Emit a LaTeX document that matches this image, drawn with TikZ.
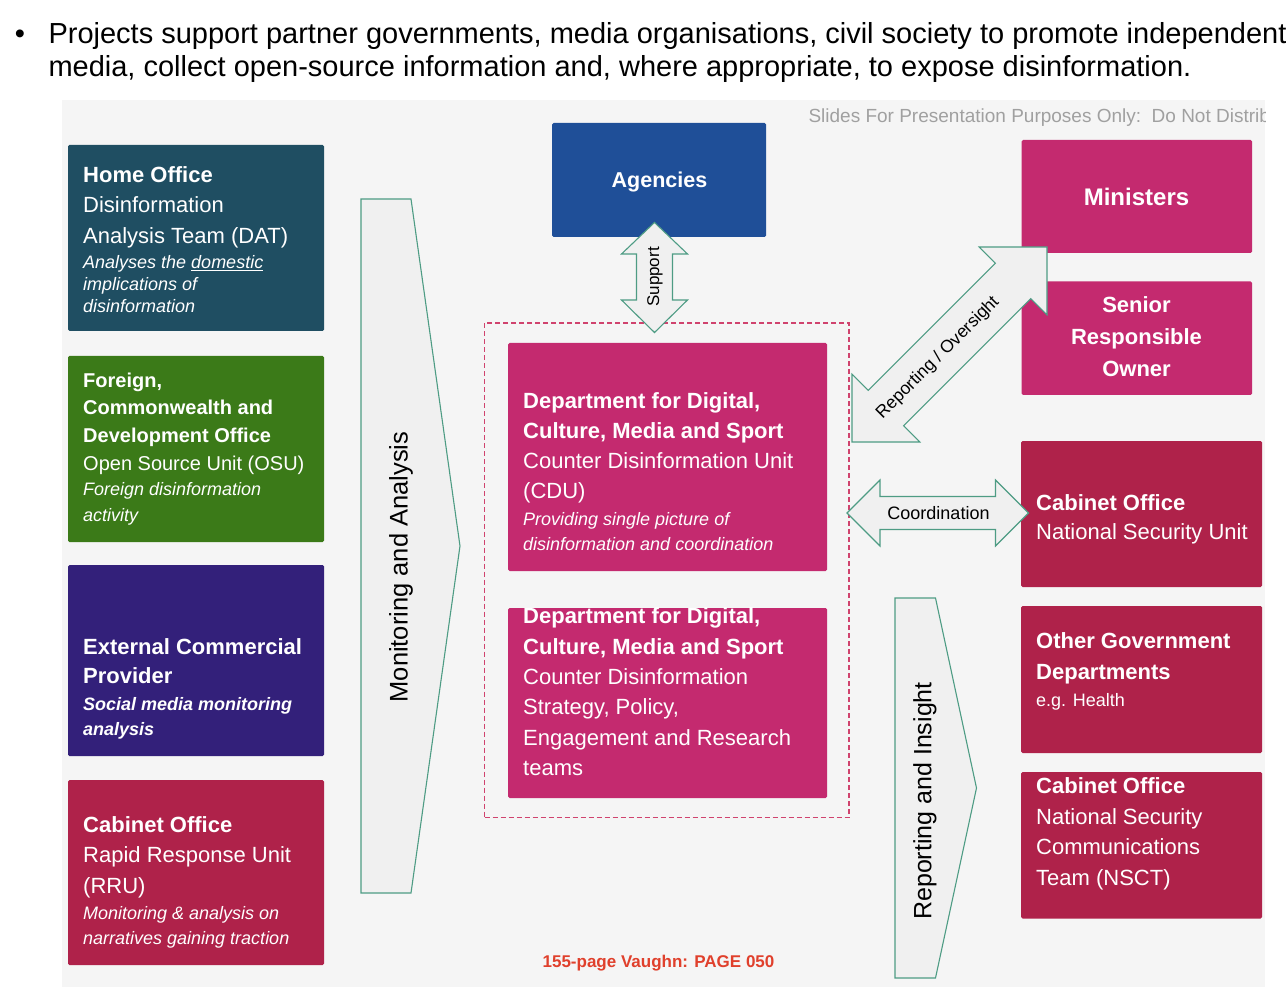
\documentclass[tikz,border=0pt]{standalone}
\usepackage{fontspec}
\setmainfont{Liberation Sans}
\definecolor{panelbg}{HTML}{F5F5F5}
\definecolor{homeblue}{HTML}{1F4E62}
\definecolor{fcdogreen}{HTML}{3B7A18}
\definecolor{ecppurple}{HTML}{33207A}
\definecolor{rrured}{HTML}{AF224A}
\definecolor{agencyblue}{HTML}{1F4F98}
\definecolor{dcmsmag}{HTML}{C42A6F}
\definecolor{arrowfill}{HTML}{F0F0F0}
\definecolor{arrowline}{HTML}{4E9C84}
\definecolor{dashcol}{HTML}{D0436E}
\definecolor{notegray}{HTML}{A0A0A0}
\definecolor{footred}{HTML}{E0402C}
\newcommand\fsz[2]{\fontsize{#1}{#2}\selectfont}
\begin{document}
\begin{tikzpicture}[x=1pt,y=-1pt,
  box/.style={anchor=north west, inner sep=0pt, outer sep=0pt, rounded corners=1.5pt, draw=none},
  lbl/.style={anchor=north west, inner sep=0pt, align=left, text=white},
  clbl/.style={anchor=north, inner sep=0pt, align=center, text=white},
  blockarrow/.style={fill=arrowfill, draw=arrowline, line width=1.1pt, line join=miter},
  arrowtext/.style={inner sep=0pt, text=black}]
\useasboundingbox (0,0) rectangle (1286,1000);
\fill[white] (0,0) rectangle (1286,1000);
\node[box, fill=panelbg, rounded corners=0pt, minimum width=1203pt, minimum height=887pt] (panel) at (62,100) {};

% header text
\node[anchor=base, font=\fsz{29}{34}] (bullet) at (20,44) {•};
\node[anchor=base west, font=\fsz{29}{34}] (head1) at (45,43.5) {Projects support partner governments, media organisations, civil society to promote independent};
\node[anchor=base west, font=\fsz{29}{34}] (head2) at (45,77) {media, collect open-source information and, where appropriate, to expose disinformation.};

\begin{scope}
\clip (62,100) rectangle (1265,987);
\node[anchor=base west, text=notegray, font=\fsz{19}{22}] (note) at (805,123) {Slides For Presentation Purposes Only:\ \ Do Not Distrib};
\end{scope}

% left column
\node[box, fill=homeblue, minimum width=256pt, minimum height=186pt] (home) at (68,145) {};
\node[lbl, font=\fsz{22}{30.5}] (homeT) at (83,164.4) {\rule{0pt}{17.6pt}\textbf{Home Office}\\Disinformation\\Analysis Team (DAT)};
\node[lbl, font=\fsz{18}{22}\itshape] (homeI) at (83,253.6) {\rule{0pt}{14.4pt}Analyses the \underline{domestic}\\implications of\\disinformation};

\node[box, fill=fcdogreen, minimum width=256pt, minimum height=186pt] (fcdo) at (68,356) {};
\node[lbl, font=\fsz{20}{27.7}] (fcdoT) at (83,371) {\rule{0pt}{16pt}\textbf{Foreign,}\\\textbf{Commonwealth and}\\\textbf{Development Office}\\Open Source Unit (OSU)};
\node[lbl, font=\fsz{18}{25.5}\itshape] (fcdoI) at (83,481.1) {\rule{0pt}{14.4pt}Foreign disinformation\\activity};

\node[box, fill=ecppurple, minimum width=256pt, minimum height=191pt] (ecp) at (68,565) {};
\node[lbl, font=\fsz{22}{29.5}\bfseries] (ecpT) at (83,636.4) {\rule{0pt}{17.6pt}External Commercial\\Provider};
\node[lbl, font=\fsz{18}{25.5}\bfseries\itshape] (ecpI) at (83,695.6) {\rule{0pt}{14.4pt}Social media monitoring\\analysis};

\node[box, fill=rrured, minimum width=256pt, minimum height=185pt] (rru) at (68,780) {};
\node[lbl, font=\fsz{22}{30.5}] (rruT) at (83,814.4) {\rule{0pt}{17.6pt}\textbf{Cabinet Office}\\Rapid Response Unit\\(RRU)};
\node[lbl, font=\fsz{18}{25}\itshape] (rruI) at (83,904.6) {\rule{0pt}{14.4pt}Monitoring \& analysis on\\narratives gaining traction};

% monitoring chevron
\draw[blockarrow] (361,199) -- (411,199) -- (460,546) -- (411,893) -- (361,893) -- cycle;
\node[arrowtext, rotate=90, font=\fsz{25.5}{30}] (mon) at (401,567) {Monitoring and Analysis};

% centre
\node[box, fill=agencyblue, minimum width=214pt, minimum height=114pt] (agencies) at (552,123) {};
\node[anchor=base, inner sep=0pt, text=white, font=\fsz{21.5}{25}\bfseries] (agT) at (659.5,187.5) {Agencies};

\node[box, draw=dashcol, dash pattern=on 5pt off 3pt, line width=1.2pt, rounded corners=0pt, minimum width=364.5pt, minimum height=494.5pt] (group) at (484.5,323) {};

\node[box, fill=dcmsmag, minimum width=319pt, minimum height=228pt] (cdu) at (508,343) {};
\node[lbl, font=\fsz{22}{30}] (cduT) at (523,390.4) {\rule{0pt}{17.6pt}\textbf{Department for Digital,}\\\textbf{Culture, Media and Sport}\\Counter Disinformation Unit\\(CDU)};
\node[lbl, font=\fsz{18}{25}\itshape] (cduI) at (523,510.6) {\rule{0pt}{14.4pt}Providing single picture of\\disinformation and coordination};

\node[box, fill=dcmsmag, minimum width=319pt, minimum height=190pt] (strat) at (508,608) {};
\node[lbl, font=\fsz{22}{30.4}] (stratT) at (523,605.9) {\rule{0pt}{17.6pt}\textbf{Department for Digital,}\\\textbf{Culture, Media and Sport}\\Counter Disinformation\\Strategy, Policy,\\Engagement and Research\\teams};

% support arrow
\draw[blockarrow] (654.5,222.5) -- (687.5,254) -- (672.5,254) -- (672.5,300) -- (687.5,300) -- (654.5,332.5) -- (621.5,300) -- (636.5,300) -- (636.5,254) -- (621.5,254) -- cycle;
\node[arrowtext, rotate=90, font=\fsz{17}{20}] (sup) at (655,277) {Support};

% right column
\node[box, fill=dcmsmag, minimum width=230.5pt, minimum height=113pt] (min) at (1021.5,140) {};
\node[anchor=base, inner sep=0pt, text=white, font=\fsz{24}{28}\bfseries] (minT) at (1136.5,206) {Ministers};

\node[box, fill=dcmsmag, minimum width=230.5pt, minimum height=113.5pt] (sro) at (1021.5,281.5) {};
\node[clbl, font=\fsz{22}{32}\bfseries] (sroT) at (1136.5,294.4) {\rule{0pt}{17.6pt}Senior\\Responsible\\Owner};

\node[box, fill=rrured, minimum width=241pt, minimum height=146pt] (nsu) at (1021,441) {};
\node[lbl, font=\fsz{22}{29.5}] (nsuT) at (1036,492.4) {\rule{0pt}{17.6pt}\textbf{Cabinet Office}\\National Security Unit};

\node[box, fill=rrured, minimum width=241pt, minimum height=147pt] (ogd) at (1021,606) {};
\node[lbl, font=\fsz{22}{31}\bfseries] (ogdT) at (1036,630.7) {\rule{0pt}{17.6pt}Other Government\\Departments};
\node[anchor=base west, inner sep=0pt, text=white, font=\fsz{18}{22}] (ogdI) at (1036,706) {e.g. Health};

\node[box, fill=rrured, minimum width=241pt, minimum height=146.5pt] (nsct) at (1021,772) {};
\node[lbl, font=\fsz{22}{30.6}] (nsctT) at (1036,775.7) {\rule{0pt}{17.6pt}\textbf{Cabinet Office}\\National Security\\Communications\\Team (NSCT)};

% reporting / oversight arrow
\draw[blockarrow] (852,442) -- (919.9,442) -- (903.6,425.7) -- (1030.7,298.6) -- (1047,314.9) -- (1047,247) -- (979.1,247) -- (995.4,263.3) -- (868.3,390.4) -- (852,374.1) -- cycle;
\node[arrowtext, rotate=45, font=\fsz{17.5}{22}] (rep) at (938,358) {Reporting / Oversight};

% coordination arrow
\draw[blockarrow] (847,513) -- (880,480) -- (880,496.5) -- (995.5,496.5) -- (995.5,480) -- (1028.5,513) -- (995.5,546) -- (995.5,529.5) -- (880,529.5) -- (880,546) -- cycle;
\node[arrowtext, font=\fsz{18}{22}] (coord) at (938.5,513) {Coordination};

% reporting and insight chevron
\draw[blockarrow] (895,598) -- (935.5,598) -- (976.5,788) -- (935.5,978) -- (895,978) -- cycle;
\node[arrowtext, rotate=90, font=\fsz{25}{30}] (ins) at (925,801) {Reporting and Insight};

% footer
\node[anchor=base, inner sep=0pt, text=footred, font=\fsz{17}{20}\bfseries] (page) at (658.5,967) {155-page Vaughn: PAGE 050};
\end{tikzpicture}
\end{document}
